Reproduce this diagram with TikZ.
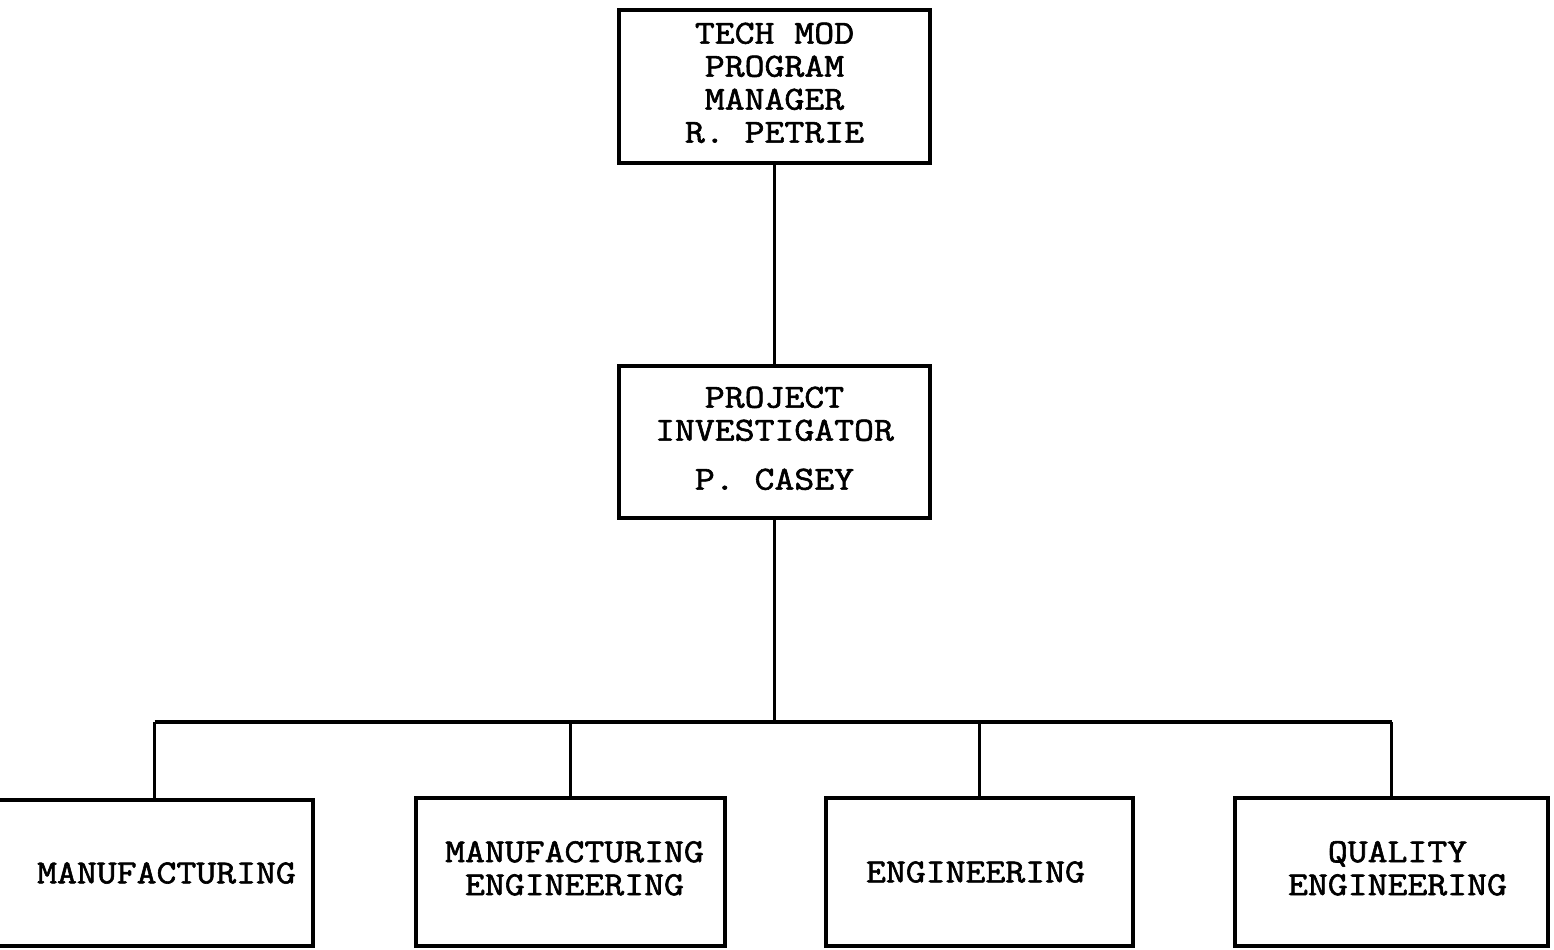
\documentclass[tikz,border=0pt]{standalone}
\usepackage{fontspec}
\newfontfamily\tw{Latin Modern Mono}[FakeBold=1.8,FakeStretch=1.15]
\newcommand\stk[2]{\raisebox{#1}{\begin{tabular}{@{}c@{}}#2\end{tabular}}}
\begin{document}
\begin{tikzpicture}[x=0.5pt,y=-0.5pt,
  box/.style={draw, line width=2pt, inner sep=0pt, align=center,
    font=\tw\fontsize{16.8}{16.5}\selectfont},
  wire/.style={line width=1.6pt}]
\clip (0,0) rectangle (1554,949);
\fill[white] (0,0) rectangle (1554,949);
\node[box, minimum width=155.5pt, minimum height=76.5pt] (top) at (774.5,86.5)
  {\stk{2pt}{TECH MOD\\PROGRAM\\MANAGER\\R. PETRIE}};
\node[box, minimum width=155.5pt, minimum height=76pt] (mid) at (774.5,442)
  {\stk{-1pt}{PROJECT\\INVESTIGATOR\\[8pt]P. CASEY}};
\node[box, minimum width=158.5pt, minimum height=73pt] (b1) at (154.5,873)
  {\hspace*{12pt}\raisebox{-4pt}{MANUFACTURING}};
\node[box, minimum width=154.5pt, minimum height=74pt] (b2) at (570.5,872)
  {\hspace*{4pt}\stk{2pt}{MANUFACTURING\\ENGINEERING}};
\node[box, minimum width=153.5pt, minimum height=74pt] (b3) at (979.5,872)
  {ENGINEERING\hspace*{4pt}};
\node[box, minimum width=156.5pt, minimum height=74pt] (b4) at (1391.5,872)
  {\hspace*{6pt}\stk{4pt}{QUALITY\\ENGINEERING}};
\coordinate (bus) at (774.5,722);
\draw[wire] (top.south) -- (mid.north);
\draw[wire] (mid.south) -- (bus);
\draw[wire] (b1.north |- bus) -- (b4.north |- bus);
\foreach \b in {b1,b2,b3,b4}
  \draw[wire] (\b.north) -- (\b.north |- bus);
\end{tikzpicture}
\end{document}
